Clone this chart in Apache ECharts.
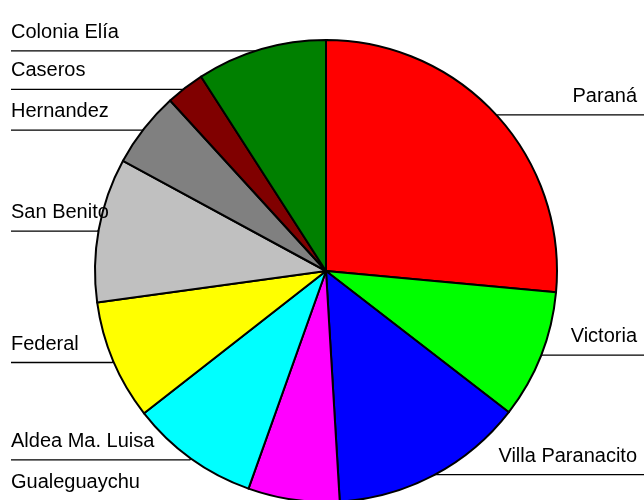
<!DOCTYPE html>
<html>
<head>
<meta charset="utf-8">
<script src="https://cdn.jsdelivr.net/npm/echarts@6/dist/echarts.min.js"></script>
<style>
html,body{margin:0;padding:0;background:#fff;}
#chart{width:644px;height:500px;}
</style>
</head>
<body>
<div id="chart"></div>
<script>
// Data (percent shares)
const categories = ['Paraná','Victoria','Villa Paranacito','Gualeguaychu','Aldea Ma. Luisa','Federal','San Benito','Hernandez','Caseros','Colonia Elía'];
const values = [26.5, 9.0, 13.6, 6.4, 9.0, 8.4, 10.1, 5.3, 2.7, 9.1];
const colors = ['#FF0000','#00FF00','#0000FF','#FF00FF','#00FFFF','#FFFF00','#C0C0C0','#808080','#800000','#008000'];

const W = 644;
const chart = echarts.init(document.getElementById('chart'), null, {renderer:'canvas'});
const data = categories.map((c,i)=>({name:c, value:values[i], itemStyle:{color:colors[i]}}));

chart.setOption({
  animation:false,
  backgroundColor:'#ffffff',
  series:[{
    type:'pie',
    center:[326,271],
    radius:[0,231],
    startAngle:90,
    clockwise:true,
    avoidLabelOverlap:false,
    data:data,
    itemStyle:{borderColor:'#000',borderWidth:2},
    label:{show:true,position:'outside',color:'#000',fontFamily:'Liberation Sans, Arial, sans-serif',fontSize:20,formatter:'{b}'},
    labelLine:{show:true,length:2,length2:10,smooth:false,lineStyle:{color:'#000',width:1.3}},
    emphasis:{disabled:true},
    labelLayout:function(p){
      const pts = p.labelLinePoints;
      if(!pts) return {};
      const p0 = pts[0];
      const right = p0[0] > 326;
      const ly = p0[1] + (right ? -0.5 : 1.5);
      const edge = right ? W : 11;
      return {
        x: right ? 637 : 11,
        y: ly - 18.5,
        align: right ? 'right' : 'left',
        verticalAlign:'middle',
        hideOverlap:false,
        moveOverlap:null,
        labelLinePoints:[[p0[0],p0[1]],[p0[0]+(right?1:-1)*1,ly],[edge,ly]]
      };
    }
  }]
});
</script>
</body>
</html>
